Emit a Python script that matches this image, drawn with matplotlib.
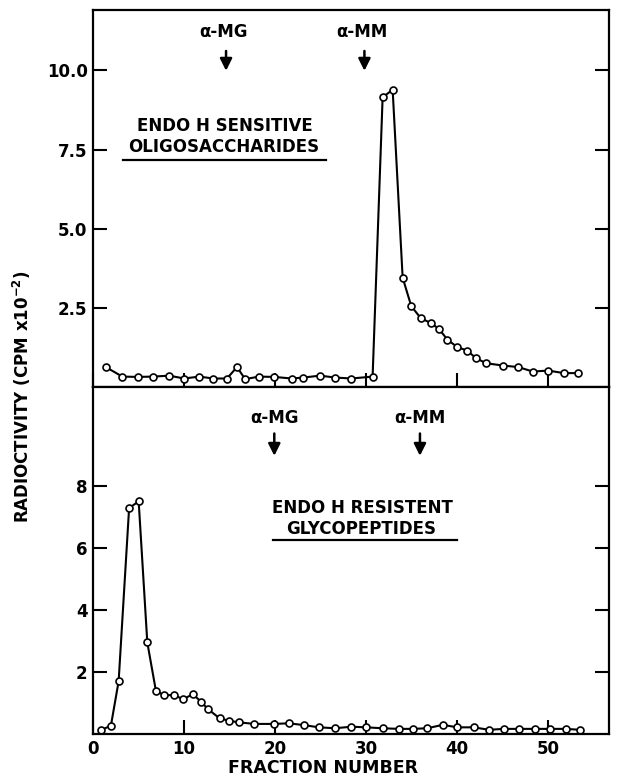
import matplotlib
matplotlib.use("Agg")
import matplotlib.pyplot as plt

# top panel: endo H sensitive oligosaccharides
frac_top = [1.4, 3.2, 4.9, 6.6, 8.35, 10.0, 11.65, 13.2, 14.7, 15.8, 16.7, 18.2,
            19.9, 21.8, 23.1, 24.9, 26.6, 28.35, 30.7, 31.8, 32.9, 34.0, 34.95,
            36.0, 37.1, 38.0, 38.9, 40.0, 41.1, 42.05, 43.2, 45.0, 46.7, 48.3,
            50.0, 51.7, 53.3]
cpm_top = [0.64, 0.34, 0.33, 0.34, 0.37, 0.28, 0.34, 0.28, 0.28, 0.64, 0.26, 0.34,
           0.33, 0.28, 0.31, 0.37, 0.31, 0.28, 0.34, 9.15, 9.39, 3.46, 2.56,
           2.18, 2.03, 1.84, 1.51, 1.27, 1.16, 0.92, 0.76, 0.69, 0.64, 0.50,
           0.53, 0.45, 0.45]

# bottom panel: endo H resistent glycopeptides
frac_bot = [0.9, 1.95, 2.8, 3.95, 5.0, 5.95, 6.9, 7.8, 8.85, 9.9, 10.95, 11.85,
            12.6, 13.9, 14.95, 16.05, 17.7, 19.9, 21.5, 23.2, 24.8, 26.6, 28.35,
            30.0, 31.8, 33.6, 35.1, 36.7, 38.4, 40.0, 41.8, 43.5, 45.1, 46.8,
            48.5, 50.2, 51.9, 53.5]
cpm_bot = [0.14, 0.27, 1.71, 7.30, 7.52, 2.96, 1.39, 1.26, 1.26, 1.13, 1.29, 1.05,
           0.81, 0.51, 0.43, 0.38, 0.33, 0.33, 0.35, 0.29, 0.22, 0.19, 0.24,
           0.22, 0.19, 0.17, 0.17, 0.19, 0.30, 0.22, 0.22, 0.14, 0.17, 0.17,
           0.17, 0.17, 0.17, 0.14]

top_yticks = [2.5, 5.0, 7.5, 10.0]
bot_yticks = [2, 4, 6, 8]
xticks = [0, 10, 20, 30, 40, 50]

# marker positions (fraction) for standards
top_markers = {"α-MG": 14.6, "α-MM": 29.8}
bot_markers = {"α-MG": 19.9, "α-MM": 35.9}

fig = plt.figure(figsize=(6.38, 7.81), dpi=100)
ax1 = fig.add_axes([0.146, 0.504, 0.809, 0.483])
ax2 = fig.add_axes([0.146, 0.060, 0.809, 0.444])

def style(ax, yticks, ylim, fmt):
    ax.set_xlim(0, 56.7)
    ax.set_ylim(*ylim)
    ax.set_xticks(xticks)
    ax.set_yticks(yticks)
    ax.set_yticklabels([fmt.format(v) for v in yticks], fontsize=12, fontweight="bold")
    ax.tick_params(direction="in", length=10, width=1.5, right=True, top=False, pad=4)
    for s in ax.spines.values():
        s.set_linewidth(1.6)

def plot_series(ax, x, y):
    ax.plot(x, y, "-o", color="black", lw=1.5, ms=5, mfc="white", mec="black", mew=1.2)

def arrows(ax, markers, ytext, ytail, ytip, dx):
    for name, xpos in markers.items():
        ax.text(xpos + dx, ytext, name, ha="center", va="center", fontsize=12, fontweight="bold")
        ax.annotate("", xy=(xpos, ytip), xytext=(xpos, ytail),
                    arrowprops=dict(arrowstyle="-|>", lw=1.8, color="black", mutation_scale=18))

plot_series(ax1, frac_top, cpm_top)
style(ax1, top_yticks, (0, 11.9), "{:.1f}")
ax1.set_xticklabels([])
arrows(ax1, top_markers, 11.2, 10.7, 9.9, -0.3)
ax1.text(14.5, 8.24, "ENDO H SENSITIVE", ha="center", va="center", fontsize=12, fontweight="bold")
ax1.text(14.3, 7.58, "OLIGOSACCHARIDES", ha="center", va="center", fontsize=12, fontweight="bold")
ax1.plot([3.3, 25.6], [7.17, 7.17], color="black", lw=1.6)

plot_series(ax2, frac_bot, cpm_bot)
style(ax2, bot_yticks, (0, 11.2), "{:d}")
ax2.set_xticklabels([str(v) for v in xticks], fontsize=12, fontweight="bold")
arrows(ax2, bot_markers, 10.21, 9.8, 8.9, 0.0)
ax2.text(29.6, 7.29, "ENDO H RESISTENT", ha="center", va="center", fontsize=12, fontweight="bold")
ax2.text(29.45, 6.62, "GLYCOPEPTIDES", ha="center", va="center", fontsize=12, fontweight="bold")
ax2.plot([19.8, 40.0], [6.27, 6.27], color="black", lw=1.6)

fig.text(0.506, 0.017, "FRACTION NUMBER", ha="center", va="center", fontsize=12.5, fontweight="bold")
fig.text(0.034, 0.492, r"RADIOCTIVITY (CPM x10$^{\mathbf{-2}}$)", rotation=90,
         ha="center", va="center", fontsize=12, fontweight="bold")

fig.savefig("out.png", dpi=100)
